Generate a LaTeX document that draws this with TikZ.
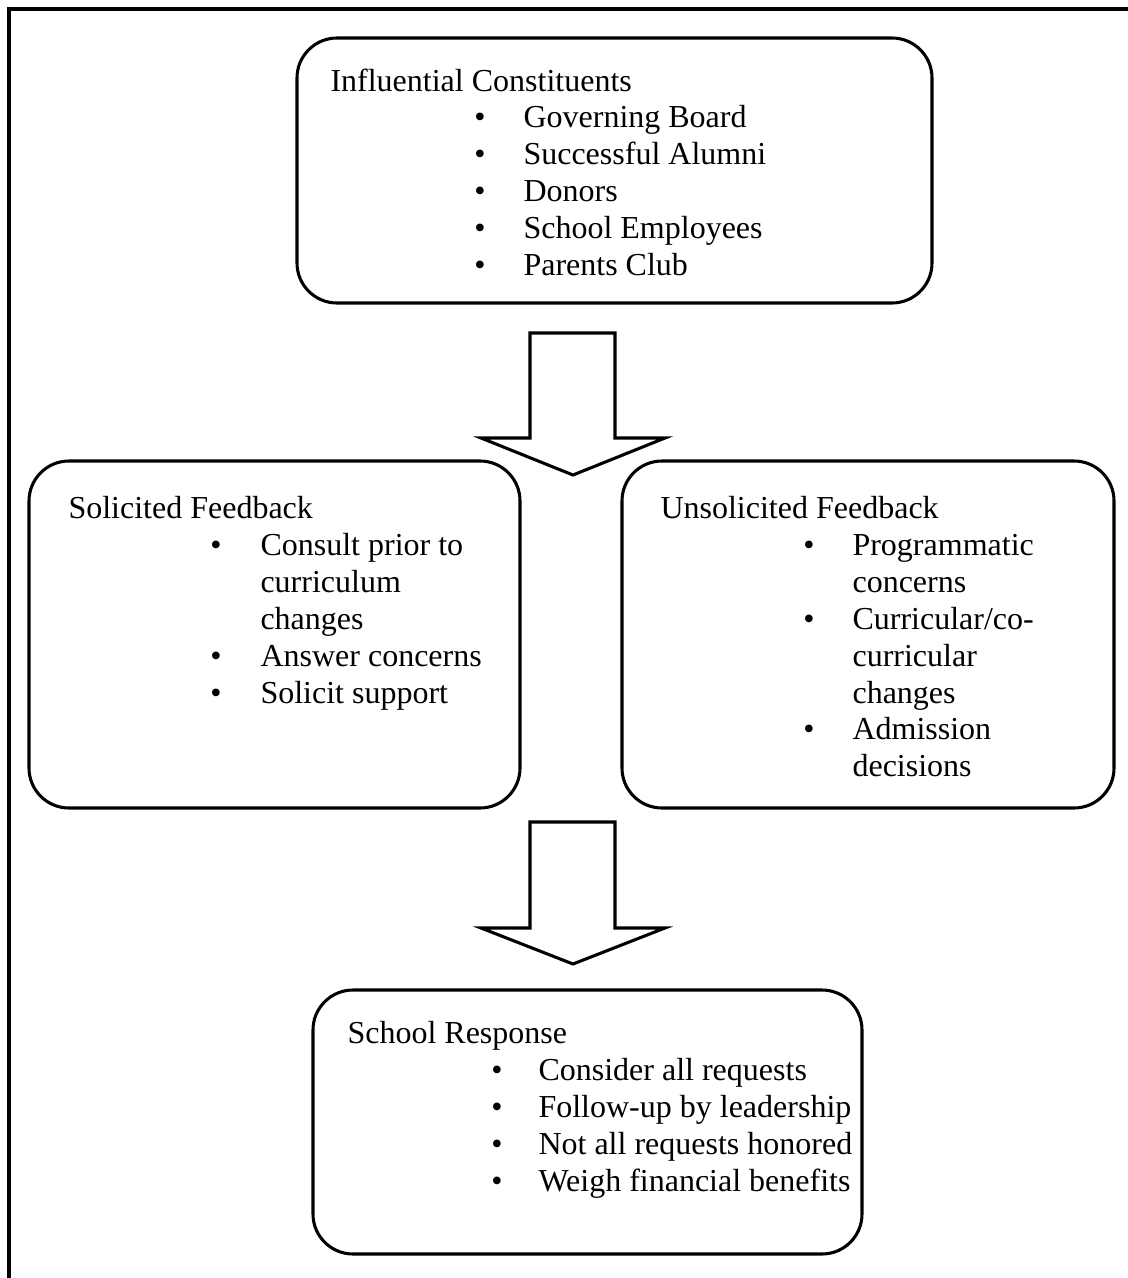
\documentclass[tikz,border=0pt]{standalone}
\usepackage{fontspec}
\setmainfont{Liberation Serif}
\begin{document}
\begin{tikzpicture}[x=0.375pt,y=-0.375pt,
  frame/.style={line width=1.15pt},
  box/.style={draw,line width=1.15pt,rounded corners=15pt},
  blockarrow/.style={draw,line width=1.15pt,line join=miter,fill=white},
  txt/.style={anchor=base west,inner sep=0pt,font=\fontsize{12}{13.875}\selectfont},
  bul/.style={anchor=base,inner sep=0pt,font=\fontsize{12}{13.875}\selectfont}]
\useasboundingbox (0,0) rectangle (1128,1278);
% outer frame (top and left only)
\draw[frame] (1128,9) -- (9,9) -- (9,1278);
% boxes
\draw[box] (297,38) rectangle (932,303);
\draw[box] (29,461) rectangle (520,808);
\draw[box] (622,461) rectangle (1114,808);
\draw[box] (313,990) rectangle (862,1254);
% block arrows
\draw[blockarrow] (530,333) -- (615,333) -- (615,438) -- (665,438) -- (573,475) -- (481,438) -- (530,438) -- cycle;
\draw[blockarrow] (530,822) -- (615,822) -- (615,928) -- (665,928) -- (573,964) -- (481,928) -- (530,928) -- cycle;
% top box text
\node[txt] (ich) at (330,91) {Influential Constituents};
\node[bul] (icb1) at (480,127) {\textbullet};
\node[txt] (ic1) at (523,127) {Governing Board};
\node[bul] (icb2) at (480,164) {\textbullet};
\node[txt] (ic2) at (523,164) {Successful Alumni};
\node[bul] (icb3) at (480,201) {\textbullet};
\node[txt] (ic3) at (523,201) {Donors};
\node[bul] (icb4) at (480,238) {\textbullet};
\node[txt] (ic4) at (523,238) {School Employees};
\node[bul] (icb5) at (480,275) {\textbullet};
\node[txt] (ic5) at (523,275) {Parents Club};
% left box text
\node[txt] (sfh) at (68,518) {Solicited Feedback};
\node[bul] (sfb1) at (216,555) {\textbullet};
\node[txt] (sf1) at (260,555) {Consult prior to};
\node[txt] (sf2) at (260,592) {curriculum};
\node[txt] (sf3) at (260,629) {changes};
\node[bul] (sfb2) at (216,666) {\textbullet};
\node[txt] (sf4) at (260,666) {Answer concerns};
\node[bul] (sfb3) at (216,703) {\textbullet};
\node[txt] (sf5) at (260,703) {Solicit support};
% right box text
\node[txt] (ufh) at (660,518) {Unsolicited Feedback};
\node[bul] (ufb1) at (809,555) {\textbullet};
\node[txt] (uf1) at (852,555) {Programmatic};
\node[txt] (uf2) at (852,592) {concerns};
\node[bul] (ufb2) at (809,629) {\textbullet};
\node[txt] (uf3) at (852,629) {Curricular/co-};
\node[txt] (uf4) at (852,666) {curricular};
\node[txt] (uf5) at (852,703) {changes};
\node[bul] (ufb3) at (809,739) {\textbullet};
\node[txt] (uf6) at (852,739) {Admission};
\node[txt] (uf7) at (852,776) {decisions};
% bottom box text
\node[txt] (srh) at (347,1043) {School Response};
\node[bul] (srb1) at (497,1080) {\textbullet};
\node[txt] (sr1) at (538,1080) {Consider all requests};
\node[bul] (srb2) at (497,1117) {\textbullet};
\node[txt] (sr2) at (538,1117) {Follow-up by leadership};
\node[bul] (srb3) at (497,1154) {\textbullet};
\node[txt] (sr3) at (538,1154) {Not all requests honored};
\node[bul] (srb4) at (497,1191) {\textbullet};
\node[txt] (sr4) at (538,1191) {Weigh financial benefits};
\end{tikzpicture}
\end{document}
